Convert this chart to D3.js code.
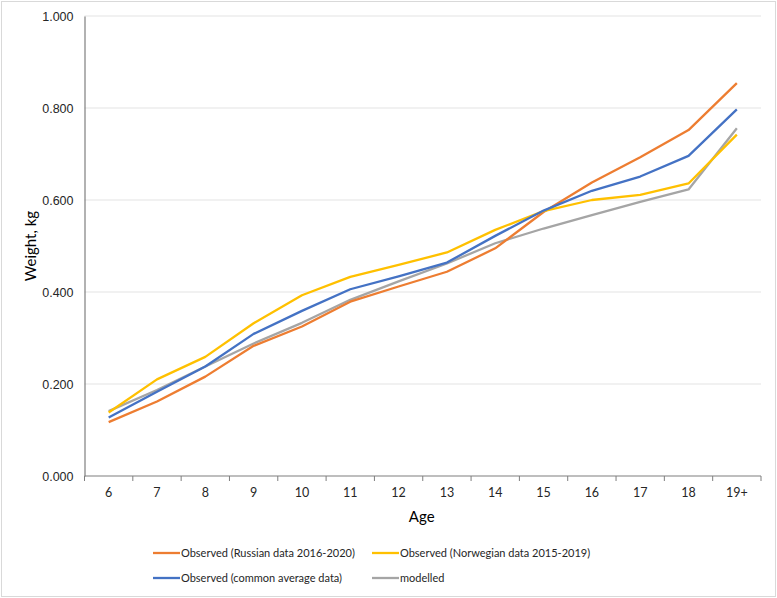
<!DOCTYPE html>
<html>
<head>
<meta charset="utf-8">
<script src="https://cdn.jsdelivr.net/npm/d3@7"></script>
<style>
  body { margin: 0; background: #fff; }
  svg { font-family: Lato, "Open Sans", sans-serif; }
</style>
</head>
<body>
<svg id="chart" width="777" height="598"></svg>
<script>
// categories and series
const ages = ["6", "7", "8", "9", "10", "11", "12", "13", "14", "15", "16", "17", "18", "19+"];
const russian   = [0.117, 0.162, 0.216, 0.283, 0.325, 0.379, 0.412, 0.444, 0.495, 0.574, 0.638, 0.693, 0.752, 0.854];
const norwegian = [0.138, 0.210, 0.259, 0.332, 0.393, 0.433, 0.459, 0.486, 0.535, 0.576, 0.600, 0.611, 0.636, 0.742];
const common    = [0.127, 0.183, 0.238, 0.309, 0.359, 0.406, 0.434, 0.464, 0.522, 0.577, 0.620, 0.651, 0.696, 0.797];
const modelled  = [0.141, 0.187, 0.238, 0.288, 0.333, 0.383, 0.423, 0.462, 0.506, 0.538, 0.567, 0.596, 0.623, 0.756];
const yTicks = [0, 0.2, 0.4, 0.6, 0.8, 1.0];

const series = [
  { name: "Observed (Russian data 2016-2020)", values: russian, color: "#ED7D31" },
  { name: "Observed (Norwegian data 2015-2019)", values: norwegian, color: "#FFC000" },
  { name: "Observed (common average data)", values: common, color: "#4472C4" },
  { name: "modelled", values: modelled, color: "#A5A5A5" }
];
// draw order: gray underneath like the original
const drawOrder = [3, 0, 1, 2];

const width = 777, height = 598;
const margin = { top: 16, right: 16, bottom: 122, left: 84.5 };

const svg = d3.select("#chart");

// outer chart border
svg.append("rect")
  .attr("x", 1.5).attr("y", 1.5)
  .attr("width", width - 3).attr("height", height - 3)
  .attr("fill", "#fff")
  .attr("stroke", "#d9d9d9");

let x = d3.scaleBand()
  .domain(ages)
  .range([margin.left, width - margin.right]);

let y = d3.scaleLinear()
  .domain([0, 1])
  .range([height - margin.bottom, margin.top]);

// gridlines
svg.append("g")
  .selectAll("line")
  .data(yTicks.slice(1))
  .enter().append("line")
  .attr("x1", margin.left).attr("x2", width - margin.right)
  .attr("y1", d => y(d)).attr("y2", d => y(d))
  .attr("stroke", "#e3e3e3")
  .attr("stroke-width", 1.2);

// y axis
let yAxis = svg.append("g")
  .attr("transform", `translate(${margin.left},0)`)
  .call(d3.axisLeft(y).tickValues(yTicks).tickFormat(d3.format(".3f")).tickSize(0).tickPadding(11));
yAxis.select(".domain").attr("stroke", "#7f7f7f").attr("stroke-width", 1.2);
yAxis.selectAll("text").attr("font-size", 12.5).attr("fill", "#262626");

// x axis with ticks on the band edges
let xAxisG = svg.append("g")
  .attr("transform", `translate(0,${y(0)})`);
xAxisG.append("line")
  .attr("x1", margin.left).attr("x2", width - margin.right)
  .attr("stroke", "#7f7f7f").attr("stroke-width", 1.2);
xAxisG.selectAll(".edge")
  .data(ages.concat(["end"]))
  .enter().append("line")
  .attr("class", "edge")
  .attr("x1", (d, i) => margin.left + i * x.bandwidth())
  .attr("x2", (d, i) => margin.left + i * x.bandwidth())
  .attr("y1", 0).attr("y2", 5)
  .attr("stroke", "#7f7f7f");
xAxisG.selectAll(".lbl")
  .data(ages)
  .enter().append("text")
  .attr("class", "lbl")
  .attr("x", d => x(d) + x.bandwidth() / 2)
  .attr("y", 21)
  .attr("text-anchor", "middle")
  .attr("font-size", 12.5)
  .attr("fill", "#262626")
  .text(d => d);

// axis titles
svg.append("text")
  .attr("x", (margin.left + width - margin.right) / 2 - 1)
  .attr("y", 522)
  .attr("text-anchor", "middle")
  .attr("font-size", 15)
  .attr("fill", "#000")
  .text("Age");

svg.append("text")
  .attr("transform", `translate(36,${(y(0) + y(1)) / 2}) rotate(-90)`)
  .attr("text-anchor", "middle")
  .attr("font-size", 15)
  .attr("fill", "#000")
  .text("Weight, kg");

// lines
let line = d3.line()
  .x((d, i) => x(ages[i]) + x.bandwidth() / 2)
  .y(d => y(d));

svg.append("g")
  .selectAll("path")
  .data(drawOrder.map(i => series[i]))
  .enter().append("path")
  .attr("d", d => line(d.values))
  .attr("fill", "none")
  .attr("stroke", d => d.color)
  .attr("stroke-width", 2.3)
  .attr("stroke-linejoin", "round");

// legend
const legendPos = [[153, 553], [372, 553], [153, 578], [372, 578]];
let legend = svg.append("g")
  .selectAll("g")
  .data(series)
  .enter().append("g")
  .attr("transform", (d, i) => `translate(${legendPos[i][0]},${legendPos[i][1]})`);

legend.append("line")
  .attr("x1", 0).attr("x2", 27)
  .attr("stroke", d => d.color)
  .attr("stroke-width", 2.3);

legend.append("text")
  .attr("x", 28)
  .attr("y", 4)
  .attr("font-size", 11)
  .attr("fill", "#262626")
  .text(d => d.name);
</script>
</body>
</html>
